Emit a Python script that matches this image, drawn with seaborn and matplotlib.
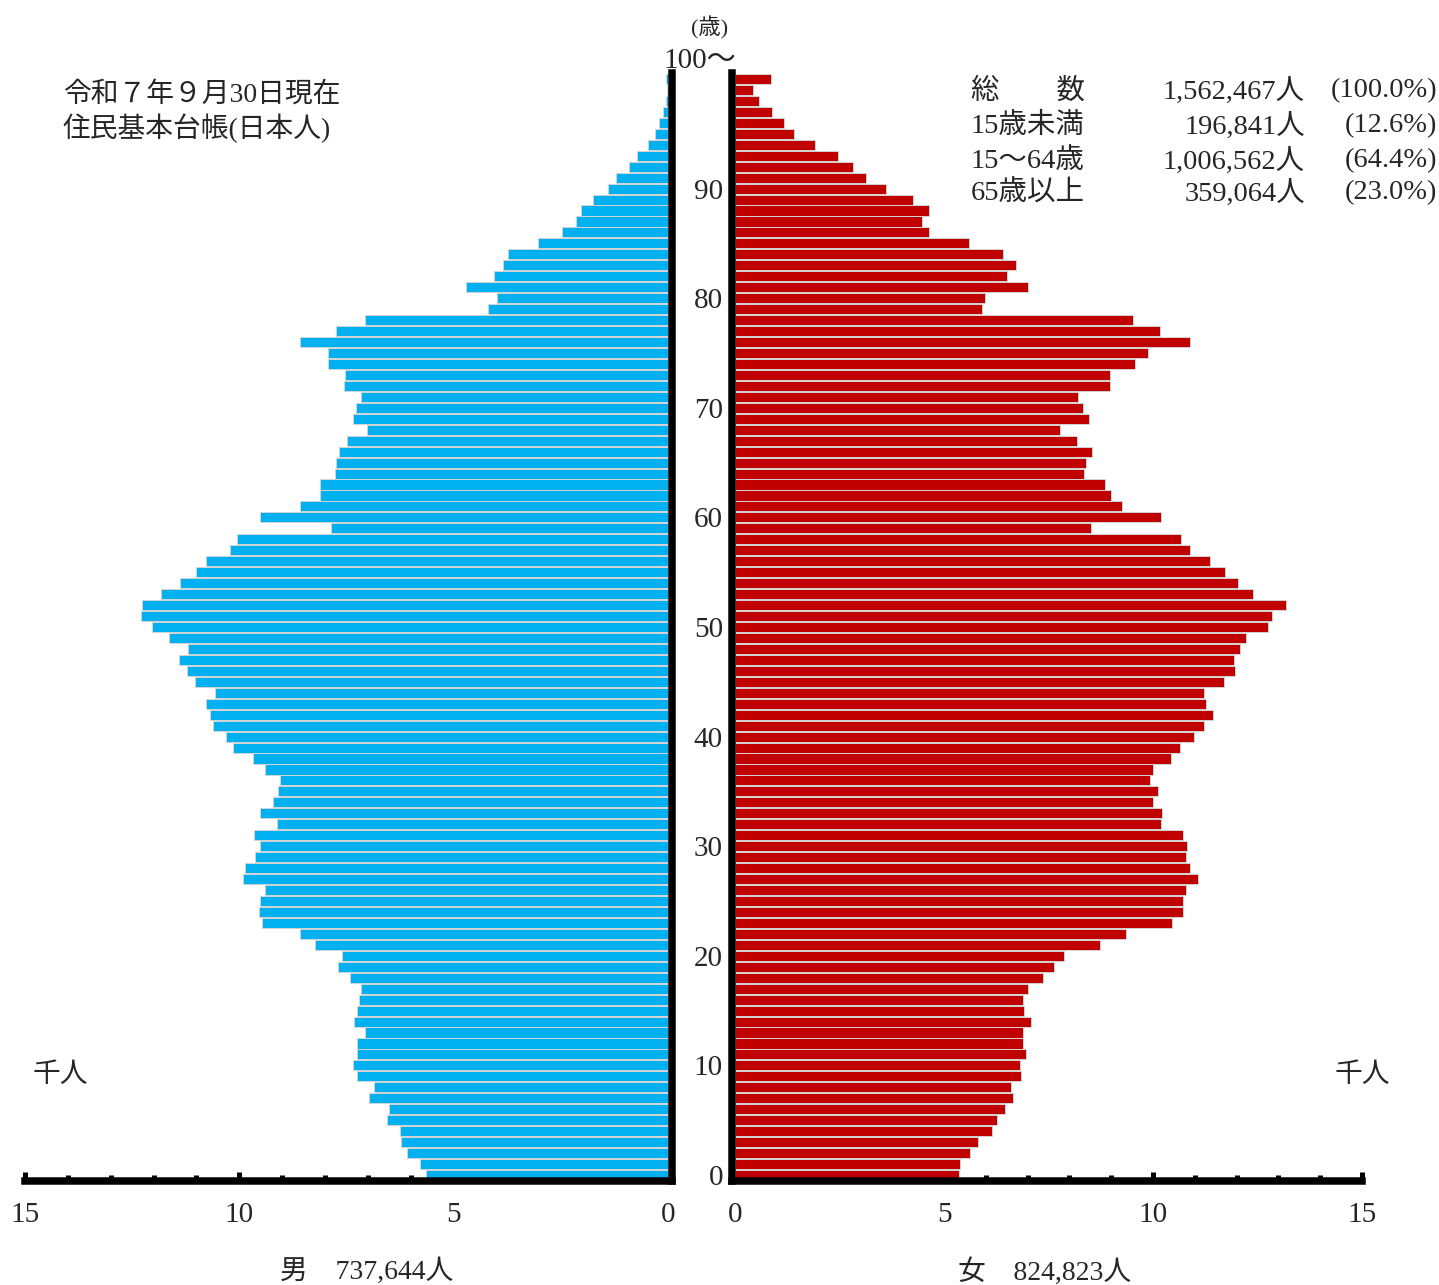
import matplotlib
matplotlib.use("Agg")
import matplotlib.pyplot as plt
from matplotlib.ticker import FixedLocator, MultipleLocator
import pandas as pd
import seaborn as sns

# 年齢 0..100(100は「100〜」)、単位：千人
ages = list(range(0, 101))

male = [5.65, 5.78, 6.08, 6.22, 6.25, 6.55, 6.52, 6.98, 6.85, 7.25,
        7.34, 7.25, 7.25, 7.08, 7.33, 7.26, 7.22, 7.17, 7.42, 7.71,
        7.61, 8.23, 8.58, 9.48, 9.55, 9.51, 9.41, 9.91, 9.87, 9.63,
        9.52, 9.66, 9.12, 9.51, 9.22, 9.09, 9.06, 9.40, 9.69, 10.15,
        10.30, 10.61, 10.69, 10.77, 10.56, 11.03, 11.21, 11.40, 11.20, 11.64,
        12.04, 12.30, 12.27, 11.83, 11.39, 11.00, 10.78, 10.21, 10.06, 7.86,
        9.52, 8.58, 8.13, 8.12, 7.77, 7.75, 7.67, 7.50, 7.03, 7.35,
        7.27, 7.17, 7.55, 7.53, 7.94, 7.93, 8.59, 7.74, 7.08, 4.20,
        3.99, 4.72, 4.05, 3.84, 3.73, 3.03, 2.48, 2.14, 2.03, 1.75,
        1.41, 1.21, 0.90, 0.72, 0.47, 0.30, 0.21, 0.11, 0.05, 0.02,
        0.05]

female = [5.36, 5.39, 5.63, 5.81, 6.15, 6.26, 6.46, 6.65, 6.60, 6.84,
          6.82, 6.97, 6.89, 6.88, 7.07, 6.92, 6.89, 7.02, 7.37, 7.64,
          7.87, 8.72, 9.35, 10.45, 10.71, 10.71, 10.78, 11.08, 10.88, 10.80,
          10.82, 10.71, 10.20, 10.22, 9.99, 10.11, 9.94, 10.00, 10.43, 10.65,
          10.98, 11.23, 11.44, 11.26, 11.23, 11.70, 11.97, 11.94, 12.08, 12.22,
          12.76, 12.84, 13.18, 12.39, 12.03, 11.72, 11.37, 10.88, 10.67, 8.51,
          10.19, 9.26, 8.99, 8.85, 8.36, 8.39, 8.54, 8.17, 7.78, 8.48,
          8.33, 8.20, 8.96, 8.96, 9.56, 9.87, 10.89, 10.16, 9.51, 5.90,
          5.98, 7.01, 6.50, 6.72, 6.41, 5.60, 4.65, 4.48, 4.63, 4.27,
          3.62, 3.13, 2.83, 2.47, 1.91, 1.42, 1.17, 0.89, 0.57, 0.43,
          0.86]

x_ticks = [0, 5, 10, 15]
age_ticks = [0, 10, 20, 30, 40, 50, 60, 70, 80, 90]

summary_labels = ["総　　数", "15歳未満", "15〜64歳", "65歳以上"]
summary_counts = ["1,562,467人", "196,841人", "1,006,562人", "359,064人"]
summary_shares = ["(100.0%)", "(12.6%)", "(64.4%)", "(23.0%)"]
male_total = "男　737,644人"
female_total = "女　824,823人"

sns.set_style("white")
plt.rcParams["font.family"] = ["Liberation Serif", "Noto Sans CJK JP"]

W, H = 1439, 1285
fig = plt.figure(figsize=(W / 100, H / 100), dpi=100)


def box(x0, x1, y0, y1):
    return [x0 / W, 1 - y1 / H, (x1 - x0) / W, (y1 - y0) / H]


def fx(x):
    return x / W


def fy(y):
    return 1 - y / H


ax_m = fig.add_axes(box(25, 672, 73.5, 1180.5))
ax_f = fig.add_axes(box(732, 1362, 73.5, 1180.5))

df = pd.DataFrame({"age": ages, "male": male, "female": female})

sns.barplot(data=df, x="male", y="age", orient="h", native_scale=True,
            color="#00B0F0", saturation=1, width=0.92, errorbar=None,
            edgecolor="#d4d4d4", linewidth=0.7, ax=ax_m)
sns.barplot(data=df, x="female", y="age", orient="h", native_scale=True,
            color="#C00000", saturation=1, width=0.92, errorbar=None,
            edgecolor="#d4d4d4", linewidth=0.7, ax=ax_f)

ax_m.set_xlim(15, -0.093)
ax_f.set_xlim(-0.072, 15)

for ax, side in ((ax_m, "right"), (ax_f, "left")):
    ax.set_ylim(-0.5, 100.5)
    ax.set_xlabel("")
    ax.set_ylabel("")
    ax.grid(False)
    for name, sp in ax.spines.items():
        if name in ("bottom", side):
            sp.set_visible(True)
            sp.set_color("black")
            sp.set_linewidth(5.4)
            sp.set_capstyle("projecting")
        else:
            sp.set_visible(False)
    ax.xaxis.set_major_locator(FixedLocator(x_ticks))
    ax.xaxis.set_minor_locator(MultipleLocator(1))
    ax.tick_params(axis="x", which="both", direction="in", color="black",
                   width=3.6, pad=15.5, labelsize=21, bottom=True)
    ax.tick_params(axis="x", which="major", length=6.5)
    ax.tick_params(axis="x", which="minor", length=4.6)

ax_m.tick_params(axis="y", left=False, right=False, labelleft=False)
ax_f.set_yticks(age_ticks)
ax_f.set_yticklabels([str(a) for a in age_ticks])
ax_f.tick_params(axis="y", length=0, pad=6.5, labelsize=21)

# 注記
fig.text(fx(63), fy(95), "令和７年９月30日現在", ha="left", va="center", fontsize=20)
fig.text(fx(63), fy(128), "住民基本台帳(日本人)", ha="left", va="center", fontsize=20)
fig.text(fx(710), fy(28), "(歳)", ha="center", va="center", fontsize=16)
fig.text(fx(700), fy(61), "100〜", ha="center", va="center", fontsize=21)

for y, lab, cnt, shr in zip([91, 126, 161, 193], summary_labels,
                            summary_counts, summary_shares):
    fig.text(fx(971), fy(y), lab, ha="left", va="center", fontsize=20.5)
    fig.text(fx(1305), fy(y), cnt, ha="right", va="center", fontsize=20.5)
    fig.text(fx(1437), fy(y), shr, ha="right", va="center", fontsize=20.5)

fig.text(fx(60), fy(1076), "千人", ha="center", va="center", fontsize=20)
fig.text(fx(1362), fy(1076), "千人", ha="center", va="center", fontsize=20)
fig.text(fx(367), fy(1272), male_total, ha="center", va="center", fontsize=20)
fig.text(fx(1045), fy(1272), female_total, ha="center", va="center", fontsize=20)

fig.savefig("out.png", dpi=100)
